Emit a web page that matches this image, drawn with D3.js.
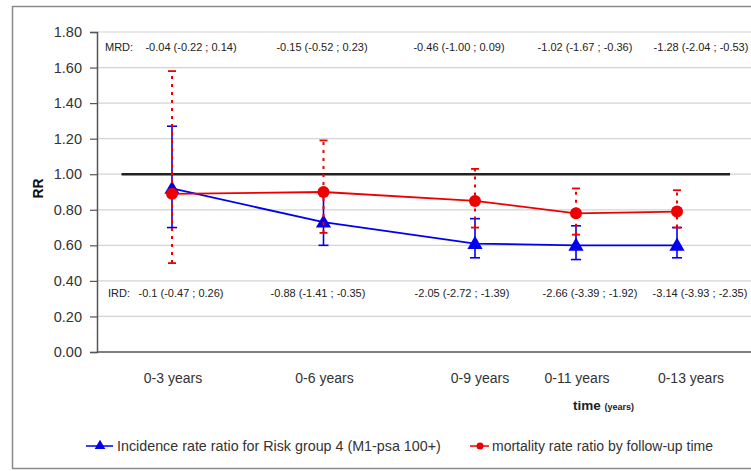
<!DOCTYPE html>
<html>
<head>
<meta charset="utf-8">
<script src="https://cdn.jsdelivr.net/npm/d3@7"></script>
<style>
  body { margin: 0; background: #fff; }
  text { font-family: "Liberation Sans", Arial, sans-serif; }
</style>
</head>
<body>
<div id="chart"></div>
<script>
// categories (follow-up windows) and their end year
var categories = ['0-3 years', '0-6 years', '0-9 years', '0-11 years', '0-13 years'];
var years = [3, 6, 9, 11, 13];

// incidence rate ratio, risk group 4 (blue)
var irr = [0.92, 0.73, 0.61, 0.60, 0.60];
var irrLow = [0.70, 0.60, 0.53, 0.52, 0.53];
var irrHigh = [1.27, 0.89, 0.75, 0.71, 0.70];

// mortality rate ratio (red)
var mrr = [0.89, 0.90, 0.85, 0.78, 0.79];
var mrrLow = [0.50, 0.67, 0.70, 0.66, 0.70];
var mrrHigh = [1.58, 1.19, 1.03, 0.92, 0.91];

var mrdLabels = ['-0.04 (-0.22 ; 0.14)', '-0.15 (-0.52 ; 0.23)', '-0.46 (-1.00 ; 0.09)', '-1.02 (-1.67 ; -0.36)', '-1.28 (-2.04 ; -0.53)'];
var irdLabels = ['-0.1 (-0.47 ; 0.26)', '-0.88 (-1.41 ; -0.35)', '-2.05 (-2.72 ; -1.39)', '-2.66 (-3.39 ; -1.92)', '-3.14 (-3.93 ; -2.35)'];
var yTicks = [0, 0.2, 0.4, 0.6, 0.8, 1.0, 1.2, 1.4, 1.6, 1.8];

var width = 751, height = 471;

var svg = d3.select('#chart').append('svg')
    .attr('width', width)
    .attr('height', height);

// outer frame
svg.append('rect')
    .attr('x', 12.5).attr('y', 6.5)
    .attr('width', 760).attr('height', 462)
    .attr('fill', '#fff')
    .attr('stroke', '#8a8a8a')
    .attr('stroke-width', 1.5);

var x = d3.scaleLinear().domain([3, 13]).range([172, 677]);
var y = d3.scaleLinear().domain([0, 1.8]).range([352, 32]);

// gridlines
svg.append('g').selectAll('line')
    .data(yTicks.slice(1))
    .enter().append('line')
    .attr('x1', 97).attr('x2', 751)
    .attr('y1', function(d) { return y(d); })
    .attr('y2', function(d) { return y(d); })
    .attr('stroke', '#d4d4d4')
    .attr('stroke-width', 1.2);

// y axis
var yAxis = svg.append('g')
    .attr('transform', 'translate(97,0)')
    .call(d3.axisLeft(y).tickValues(yTicks).tickSize(7).tickPadding(8)
        .tickFormat(d3.format('.2f')));
yAxis.select('.domain').attr('stroke', '#555').attr('stroke-width', 1.5);
yAxis.selectAll('.tick line').attr('stroke', '#555').attr('stroke-width', 1.2);
yAxis.selectAll('.tick text')
    .attr('font-size', 14.5)
    .attr('fill', '#333')
    .style('font-family', '"Liberation Sans", Arial, sans-serif');

// x axis line at 0
svg.append('line')
    .attr('x1', 97).attr('x2', 751)
    .attr('y1', y(0)).attr('y2', y(0))
    .attr('stroke', '#555').attr('stroke-width', 1.5);

// category labels
svg.append('g').selectAll('text')
    .data(categories)
    .enter().append('text')
    .attr('x', function(d, i) { return x(years[i]) + (i == 4 ? 14 : i == 2 ? 5 : 1); })
    .attr('y', 383)
    .attr('text-anchor', 'middle')
    .attr('font-size', 14)
    .attr('fill', '#333')
    .text(function(d) { return d; });

// axis titles
var tt = svg.append('text')
    .attr('x', 573).attr('y', 410)
    .attr('font-weight', 'bold')
    .attr('fill', '#222');
tt.append('tspan').attr('font-size', 13.5).text('time ');
tt.append('tspan').attr('font-size', 9).text('(years)');

svg.append('text')
    .attr('transform', 'translate(43,' + y(0.92) + ') rotate(-90)')
    .attr('text-anchor', 'middle')
    .attr('font-size', 14)
    .attr('font-weight', 'bold')
    .attr('fill', '#111')
    .text('RR');

// reference line RR = 1
svg.append('line')
    .attr('x1', x(2)).attr('x2', x(14.05))
    .attr('y1', y(1)).attr('y2', y(1))
    .attr('stroke', '#222')
    .attr('stroke-width', 2.5);

// MRD / IRD annotations
svg.append('text').attr('x', 105).attr('y', 51).attr('font-size', 11).attr('fill', '#222').text('MRD:');
svg.append('g').selectAll('text')
    .data(mrdLabels)
    .enter().append('text')
    .attr('x', function(d, i) { return [191, 322, 459, 585, 701][i]; })
    .attr('y', 51)
    .attr('text-anchor', 'middle')
    .attr('font-size', 11)
    .attr('fill', '#222')
    .text(function(d) { return d; });

svg.append('text').attr('x', 108).attr('y', 297).attr('font-size', 11).attr('fill', '#222').text('IRD:');
svg.append('g').selectAll('text')
    .data(irdLabels)
    .enter().append('text')
    .attr('x', function(d, i) { return [181, 318, 462, 590, 700][i]; })
    .attr('y', 297)
    .attr('text-anchor', 'middle')
    .attr('font-size', 11)
    .attr('fill', '#222')
    .text(function(d) { return d; });

var line = d3.line()
    .x(function(d, i) { return x(years[i]); })
    .y(function(d) { return y(d); });

var tri = d3.symbol().type(d3.symbolTriangle).size(100);

// blue series: error bars, line, markers
var blue = svg.append('g');
blue.selectAll('line.bar')
    .data(years)
    .enter().append('line')
    .attr('x1', function(d) { return x(d); })
    .attr('x2', function(d) { return x(d); })
    .attr('y1', function(d, i) { return y(irrLow[i]); })
    .attr('y2', function(d, i) { return y(irrHigh[i]); })
    .attr('stroke', '#0000ee').attr('stroke-width', 1.6);
[irrLow, irrHigh].forEach(function(arr) {
    blue.selectAll(null)
        .data(years)
        .enter().append('line')
        .attr('x1', function(d) { return x(d) - 5; })
        .attr('x2', function(d) { return x(d) + 5; })
        .attr('y1', function(d, i) { return y(arr[i]); })
        .attr('y2', function(d, i) { return y(arr[i]); })
        .attr('stroke', '#0000ee').attr('stroke-width', 1.6);
});
blue.append('path')
    .datum(irr)
    .attr('d', line)
    .attr('fill', 'none')
    .attr('stroke', '#0000ee')
    .attr('stroke-width', 1.8);
blue.selectAll('path.m')
    .data(irr)
    .enter().append('path')
    .attr('class', 'm')
    .attr('d', tri)
    .attr('transform', function(d, i) { return 'translate(' + x(years[i]) + ',' + (y(d) + 1) + ')'; })
    .attr('fill', '#0000ee');

// red series
var red = svg.append('g');
red.append('path')
    .datum(mrr)
    .attr('d', line)
    .attr('fill', 'none')
    .attr('stroke', '#ee0000')
    .attr('stroke-width', 1.8);
red.selectAll('line.bar')
    .data(years)
    .enter().append('line')
    .attr('x1', function(d) { return x(d); })
    .attr('x2', function(d) { return x(d); })
    .attr('y1', function(d, i) { return y(mrrLow[i]); })
    .attr('y2', function(d, i) { return y(mrrHigh[i]); })
    .attr('stroke', '#ee0000').attr('stroke-width', 2)
    .attr('stroke-dasharray', '3,5');
[mrrLow, mrrHigh].forEach(function(arr) {
    red.selectAll(null)
        .data(years)
        .enter().append('line')
        .attr('x1', function(d) { return x(d) - 4; })
        .attr('x2', function(d) { return x(d) + 4; })
        .attr('y1', function(d, i) { return y(arr[i]); })
        .attr('y2', function(d, i) { return y(arr[i]); })
        .attr('stroke', '#ee0000').attr('stroke-width', 1.8);
});
red.selectAll('circle')
    .data(mrr)
    .enter().append('circle')
    .attr('cx', function(d, i) { return x(years[i]); })
    .attr('cy', function(d) { return y(d); })
    .attr('r', 6)
    .attr('fill', '#ee0000');

// legend
var lg = svg.append('g').attr('transform', 'translate(0,446)');
lg.append('line').attr('x1', 86).attr('x2', 113).attr('y1', 0).attr('y2', 0)
    .attr('stroke', '#0000ee').attr('stroke-width', 1.5);
lg.append('path').attr('d', d3.symbol().type(d3.symbolTriangle).size(50))
    .attr('transform', 'translate(100,0)').attr('fill', '#0000ee');
lg.append('text').attr('x', 117).attr('y', 5).attr('font-size', 14.3).attr('fill', '#333')
    .text('Incidence rate ratio for Risk group 4 (M1-psa 100+)');
lg.append('line').attr('x1', 470).attr('x2', 489).attr('y1', 0).attr('y2', 0)
    .attr('stroke', '#ee0000').attr('stroke-width', 1.5);
lg.append('circle').attr('cx', 480).attr('cy', 0).attr('r', 3.5).attr('fill', '#ee0000');
lg.append('text').attr('x', 492).attr('y', 5).attr('font-size', 14).attr('fill', '#333')
    .text('mortality rate ratio by follow-up time');
</script>
</body>
</html>
